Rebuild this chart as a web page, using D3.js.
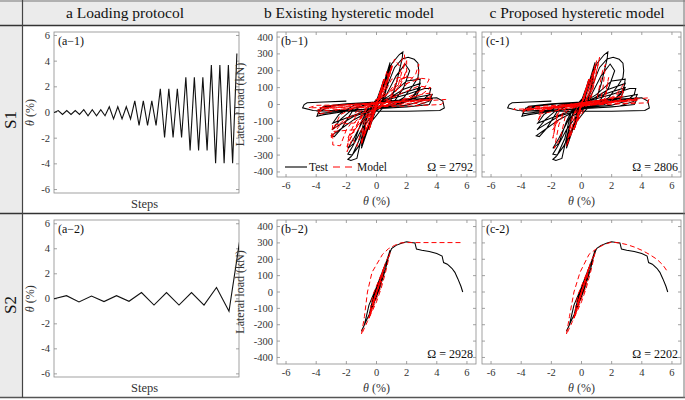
<!DOCTYPE html>
<html><head><meta charset="utf-8">
<script src="https://cdn.jsdelivr.net/npm/d3@7"></script>
<style>body{margin:0;background:#fff}</style>
</head><body>
<script>
// ---------- DATA ----------
const columnTitles = ["a Loading protocol", "b Existing hysteretic model", "c Proposed hysteretic model"];
const rowLabels = ["S1", "S2"];
const driftTicks = [-6, -4, -2, 0, 2, 4, 6];
const loadTicks = [-400, -300, -200, -100, 0, 100, 200, 300, 400];
const protocolTicks = [-6, -4, -2, 0, 2, 4, 6];
const omegaValues = [[2792, 2806], [2928, 2202]];

// loading protocol peaks (drift %, successive half-cycles)
const protocolS1 = [0, 0.15, -0.15, 0.15, -0.15, 0.15, -0.15,
  0.22, -0.25, 0.22, -0.25, 0.22, -0.25,
  0.45, -0.5, 0.45, -0.5, 0.45, -0.5,
  0.9, -1.0, 0.9, -1.0, 0.9, -1.0,
  1.85, -1.95, 1.85, -1.95, 1.85, -1.95,
  2.75, -2.95, 2.75, -2.95, 2.75, -2.95,
  3.7, -3.95, 3.7, -3.95, 3.7, -3.95, 4.6];
const protocolS2 = [0, 0.25, -0.25, 0.22, -0.22, 0.25, -0.2, 0.5, -0.5, 0.5, -0.5, 0.5, -0.5, 0.9, -1.0, 5.6];

// S1 test (drift %, load kN)
const testS1 = [[0,0],[0.15,40],[-0.15,-42],[0.15,40],[-0.15,-42],[0.15,40],[-0.15,-42],
  [0.25,70],[-0.25,-72],[0.25,70],[-0.25,-72],[0.25,68],[-0.25,-70],
  [0.45,140],[0.25,40],[0.05,-10],[-0.5,-150],[-0.3,-45],[-0.05,10],
  [0.45,135],[0.25,35],[0.05,-10],[-0.5,-145],[-0.3,-40],[-0.05,10],
  [0.45,130],[0.25,30],[0.05,-10],[-0.5,-140],[-0.3,-35],[-0.05,10],
  [0.3,70],[0.9,250],[0.6,90],[0.3,0],[-0.2,-50],[-1.0,-260],[-0.7,-100],[-0.3,0],[0.2,50],
  [0.9,235],[0.6,80],[0.3,0],[-0.2,-45],[-1.0,-245],[-0.7,-90],[-0.3,0],[0.2,45],
  [0.9,225],[0.6,70],[0.3,0],[-0.2,-40],[-1.0,-235],[-0.7,-80],[-0.3,0],
  [0.3,60],[1.0,240],[1.5,295],[1.75,312],[1.7,270],[1.3,120],[0.9,10],[0.3,-30],[-0.5,-120],[-1.2,-250],[-1.7,-310],[-1.9,-325],[-1.7,-332],[-1.3,-320],[-1.0,-200],[-0.6,-60],[-0.2,0],[0.4,40],
  [1.2,220],[1.7,270],[2.1,280],[2.5,268],[2.75,245],[2.8,200],[2.75,160],[2.4,110],[1.8,40],[1.0,0],[0,-30],[-1.0,-150],[-1.6,-250],[-1.9,-295],[-1.6,-300],[-1.1,-200],[-0.7,-50],[-0.2,0],[0.5,30],
  [1.3,170],[1.9,240],[2.2,200],[1.8,100],[1.2,20],[0.3,-20],[-0.8,-80],[-1.5,-200],[-1.9,-260],[-1.5,-230],[-1.0,-100],[-0.5,-10],[0.3,20],
  [1.0,60],[2.0,140],[2.9,150],[2.8,90],[2.2,30],[1.2,0],[0,-20],[-1.5,-90],[-2.6,-160],[-3.0,-185],[-2.8,-190],[-2.3,-140],[-1.6,-40],[-0.8,0],[0.5,20],
  [1.8,90],[2.9,125],[2.6,60],[1.8,10],[0.5,-15],[-1.5,-70],[-2.8,-140],[-2.95,-150],[-2.4,-90],[-1.5,-20],[0,10],
  [1.8,70],[2.9,100],[2.6,40],[1.5,0],[0,-15],[-2.0,-80],[-2.9,-110],[-2.5,-60],[-1.5,-5],[0,10],
  [2.0,60],[3.2,95],[3.6,95],[3.5,60],[3.0,20],[2.0,-5],[0,-20],[-2.0,-40],[-3.5,-60],[-3.95,-70],[-3.8,-40],[-3.0,-10],[-1.5,5],[0.5,10],
  [2.5,40],[3.7,60],[3.5,20],[2.5,-10],[0,-25],[-2.5,-40],[-3.9,-55],[-3.7,-20],[-2.5,0],[0,10],
  [2.5,25],[3.7,35],[3.5,0],[2.0,-15],[0,-25],[-3.0,-35],[-3.9,-40],[-3.5,-10],[-2.0,5],[0,15],
  [2.0,30],[4.0,40],[4.4,20],[4.5,-20],[4.2,-35],[2.0,-40],[0,-40],[-2.5,-40],[-4.2,-35],[-4.9,-20],[-4.8,0],[-4.6,10],[-3.5,15],[-2.0,20]];

// S1 existing model
const existingS1 = [[0,0],[0.15,45],[-0.15,-45],[0.15,45],[-0.15,-45],[0.15,45],[-0.15,-45],
  [0.25,75],[-0.25,-75],[0.25,75],[-0.25,-75],[0.25,75],[-0.25,-75],
  [0.5,150],[0.3,80],[0,0],[-0.5,-150],[-0.3,-80],[0,0],[0.5,150],[0.3,80],[0,0],[-0.5,-150],[-0.3,-80],[0,0],[0.5,150],[-0.5,-150],
  [0.2,40],[0.7,200],[0.8,150],[1.0,230],[0.7,120],[0.2,10],[-0.3,-60],[-0.8,-180],[-0.9,-140],[-1.0,-240],[-0.7,-120],[-0.2,-10],[0.3,60],[0.8,180],[1.0,220],[0.6,100],[-0.4,-80],[-1.0,-230],[-0.6,-100],[0.4,80],[1.0,210],[-1.0,-220],
  [0.2,40],[0.9,180],[1.2,270],[1.5,230],[1.85,295],[1.9,250],[1.6,200],[1.0,60],[0.5,0],[-0.5,-60],[-1.0,-150],[-1.3,-250],[-1.6,-200],[-1.95,-280],[-1.9,-230],[-1.6,-180],[-1.0,-60],[-0.5,0],[0.5,60],[1.0,150],[1.5,160],[2.0,160],[2.0,260],[1.7,200],[1.4,100],[0.8,20],[-0.6,-60],[-1.2,-150],[-1.8,-180],[-1.95,-250],[-1.5,-150],[-0.6,-20],[0.5,50],[1.5,120],[2.0,200],[1.5,100],[0.5,0],[-1.0,-100],[-1.9,-200],[-1.4,-100],[0,0],
  [0.5,40],[1.5,150],[2.2,160],[2.8,150],[2.8,240],[2.6,180],[2.0,120],[1.2,40],[0,-20],[-1.0,-100],[-1.5,-150],[-2.9,-160],[-2.9,-240],[-2.4,-245],[-2.0,-150],[-1.2,-50],[0,20],[1.5,110],[3.0,155],[3.5,150],[3.2,100],[2.5,60],[1.5,20],[0,-20],[-1.5,-110],[-2.9,-120],[-3.0,-200],[-2.5,-130],[-1.0,-20],[1.0,40],[2.8,110],[3.6,100],[3.0,60],[1.0,0],[-2.0,-80],[-2.9,-150],[-2.4,-60],[-1.0,0],
  [1.5,20],[3.0,60],[3.7,70],[3.5,30],[2.5,10],[0,-10],[-2.5,-30],[-3.9,-60],[-3.6,-20],[-2.0,0],[0.5,10],[3.0,30],[3.7,50],[3.3,10],[0,-10],[-3.9,-40],[-3.5,-10],[0,10],[3.7,30],[-3.9,-30],
  [0,10],[3.0,20],[4.6,30],[4.3,0],[2.0,-10],[-2.0,-15],[-4.5,-20],[-4.0,-5],[0,0]];

// S1 proposed model
const proposedS1 = [[0,0],[0.15,45],[-0.15,-45],[0.15,45],[-0.15,-45],[0.15,45],[-0.15,-45],
  [0.25,75],[-0.25,-75],[0.25,75],[-0.25,-75],[0.25,75],[-0.25,-75],
  [0.5,150],[-0.5,-150],[0.5,150],[-0.5,-150],[0.5,150],[-0.5,-150],
  [1.0,260],[0.7,100],[0.3,10],[-0.3,-10],[-0.8,-200],[-1.0,-250],[-0.7,-100],[-0.3,-10],[0.3,10],[0.9,230],[0.6,80],[0.2,5],[-0.9,-220],[-0.6,-70],[0.2,5],[0.9,210],[-0.9,-200],
  [0.5,20],[0.9,150],[1.2,280],[1.0,200],[0.6,20],[-0.3,-10],[-1.0,-40],[-1.4,-200],[-1.8,-260],[-1.5,-120],[-1.0,-10],[0,10],[1.0,20],[1.4,200],[1.6,240],[1.4,80],[1.2,10],[0,-10],[-1.5,-30],[-1.9,-200],[-1.6,-60],[-1.2,-5],[0,10],[1.5,30],[1.8,160],[1.6,40],[1.0,0],[-1.0,-15],[-1.9,-150],[-1.5,-20],
  [0,10],[2.0,25],[2.8,120],[2.6,30],[1.5,5],[-1.0,-10],[-2.5,-30],[-2.9,-100],[-2.6,-30],[-1.0,0],[1.5,20],[2.8,80],[2.5,20],[0,-5],[-2.9,-60],[-2.5,-20],[0,5],[2.8,50],[-2.9,-40],
  [0,5],[2.5,20],[3.7,40],[3.5,10],[0,-5],[-3.0,-20],[-3.9,-45],[-3.5,-15],[0,5],[3.7,30],[-3.9,-35],[3.7,25],[-3.9,-30],
  [4.5,40],[4.4,10],[0,-5],[-4.5,-30],[-4.4,-20]];

// S2 test
const testS2 = [[0,0],[0.2,55],[-0.25,-60],[0.2,55],[-0.25,-60],[0.2,55],[-0.25,-60],
  [0.5,140],[0.2,30],[-0.5,-150],[-0.2,-30],[0.5,140],[0.2,30],[-0.5,-150],[-0.2,-30],[0.5,135],[0.2,30],[-0.5,-145],[-0.2,-25],
  [0.3,80],[0.9,255],[0.6,140],[0.2,20],[-0.3,-100],[-1.0,-240],[-0.8,-200],[-0.5,-80],[0,30],[0.5,150],
  [1.0,265],[1.3,285],[1.7,300],[2.0,307],[2.3,303],[2.55,300],[2.65,262],[3.0,255],[3.5,248],[4.0,235],[4.35,220],[4.45,180],[4.7,170],[5.0,145],[5.2,120],[5.4,80],[5.6,35],[5.72,0]];

// S2 existing model
const existingS2 = [[0,0],[0.25,70],[-0.25,-70],[0.25,70],[-0.25,-70],[0.25,70],[-0.25,-70],
  [0.5,150],[0.25,20],[-0.5,-160],[-0.25,-20],[0.5,150],[-0.5,-160],[0.5,150],[-0.5,-160],
  [-0.2,-60],[0.2,50],[0.6,180],[0.9,240],[0.6,120],[0.3,20],[0,-60],[-0.6,-180],[-1.0,-260],[-0.8,-150],[-0.6,0],[-0.3,120],[0.4,230],[0.8,265],[1.2,285],[1.6,300],[2.0,302],[5.75,302]];

// S2 proposed model
const proposedS2 = [[0,0],[0.25,70],[-0.25,-70],[0.25,70],[-0.25,-70],[0.25,70],[-0.25,-70],
  [0.5,150],[0.25,20],[-0.5,-160],[-0.25,-20],[0.5,150],[-0.5,-160],[0.5,150],[-0.5,-160],
  [-0.2,-60],[0.2,50],[0.6,180],[0.9,240],[0.6,120],[0.3,20],[0,-60],[-0.6,-180],[-1.0,-260],[-0.8,-150],[-0.5,0],[-0.1,120],[0.5,230],[1.0,265],[1.5,290],[2.0,305],[2.5,300],[3.0,290],[3.5,275],[4.0,255],[4.5,230],[5.0,200],[5.4,165],[5.7,125]];

// ---------- DRAW ----------
const W = 685, H = 400;
const FONT = "'Liberation Serif', 'DejaVu Serif', serif";
const svg = d3.select("body").append("svg").attr("width", W).attr("height", H).attr("font-family", FONT);
const grey = "#ebebeb", txt = "#333", boxC = "#8a8a8a";

svg.append("rect").attr("width", W).attr("height", H).attr("fill", "#fff");
svg.append("rect").attr("x", 0).attr("y", 0).attr("width", W).attr("height", 25).attr("fill", grey);
svg.append("rect").attr("x", 0).attr("y", 0).attr("width", 22).attr("height", 398).attr("fill", grey);

const colCenters = [125, 349, 577];
svg.selectAll(".ct").data(columnTitles).join("text")
  .attr("x", (d, i) => colCenters[i]).attr("y", 18).attr("text-anchor", "middle")
  .attr("font-size", 15.5).attr("fill", "#111").text(d => d);

const rowCenters = [120, 305];
rowLabels.forEach((r, i) => {
  svg.append("text").attr("transform", `translate(16,${rowCenters[i]}) rotate(-90)`)
    .attr("text-anchor", "middle").attr("font-size", 17).attr("fill", "#111").text(r);
});

const ln = (x1, y1, x2, y2, c, w) => svg.append("line").attr("x1", x1).attr("y1", y1).attr("x2", x2).attr("y2", y2).attr("stroke", c).attr("stroke-width", w);

let clipId = 0;
function frame(g, x, y, cfg, xTicks, yTicks, showXLabels, showYLabels) {
  const [l, r, t, b] = [cfg.l, cfg.r, cfg.t, cfg.b];
  g.append("rect").attr("x", l).attr("y", t).attr("width", r - l).attr("height", b - t)
    .attr("fill", "none").attr("stroke", boxC).attr("stroke-width", 0.8);
  if (xTicks) {
    xTicks.forEach(v => {
      g.append("line").attr("x1", x(v)).attr("x2", x(v)).attr("y1", b).attr("y2", b - 3).attr("stroke", boxC).attr("stroke-width", 0.8);
      g.append("line").attr("x1", x(v)).attr("x2", x(v)).attr("y1", t).attr("y2", t + 3).attr("stroke", boxC).attr("stroke-width", 0.8);
    });
    if (showXLabels) g.selectAll(".xl").data(xTicks).join("text").attr("x", v => x(v)).attr("y", b + 12)
      .attr("text-anchor", "middle").attr("font-size", 10.5).attr("fill", txt).text(v => v);
  }
  yTicks.forEach(v => {
    g.append("line").attr("x1", l).attr("x2", l + 3).attr("y1", y(v)).attr("y2", y(v)).attr("stroke", boxC).attr("stroke-width", 0.8);
    g.append("line").attr("x1", r).attr("x2", r - 3).attr("y1", y(v)).attr("y2", y(v)).attr("stroke", boxC).attr("stroke-width", 0.8);
  });
  if (showYLabels) g.selectAll(".yl").data(yTicks).join("text").attr("x", l - 4).attr("y", v => y(v) + 3.5)
    .attr("text-anchor", "end").attr("font-size", 10.5).attr("fill", txt).text(v => v);
  const id = "clip" + (clipId++);
  g.append("clipPath").attr("id", id).append("rect").attr("x", l).attr("y", t).attr("width", r - l).attr("height", b - t);
  return id;
}

function thetaLabel(g, x, y, rot) {
  const t = g.append("text").attr("font-size", 12).attr("fill", txt).attr("text-anchor", "middle")
    .attr("transform", rot ? `translate(${x},${y}) rotate(-90)` : `translate(${x},${y})`);
  t.append("tspan").attr("font-style", "italic").text("θ");
  t.append("tspan").text(" (%)");
}

function protocolPanel(cfg, data, tag) {
  const g = svg.append("g");
  const x = d3.scaleLinear().domain([0, cfg.n]).range([cfg.l, cfg.r]);
  const y = d3.scaleLinear().domain(cfg.yd).range([cfg.b, cfg.t]);
  const id = frame(g, x, y, cfg, null, protocolTicks, false, true);
  g.append("path").datum(data).attr("clip-path", `url(#${id})`)
    .attr("d", d3.line().x((d, i) => x(i)).y(d => y(d)))
    .attr("fill", "none").attr("stroke", "#111").attr("stroke-width", 1.1).attr("stroke-linejoin", "miter");
  g.append("text").attr("x", cfg.l + 4).attr("y", cfg.t + 13).attr("font-size", 12).attr("fill", "#111").text(tag);
  thetaLabel(g, cfg.l - 20, y(0), true);
  g.append("text").attr("x", (cfg.l + cfg.r) / 2 - 2).attr("y", cfg.b + 15).attr("text-anchor", "middle")
    .attr("font-size", 12.5).attr("fill", txt).text("Steps");
}

function hystPanel(cfg, test, model, tag, omega, yLabels, legend) {
  const g = svg.append("g");
  const x = d3.scaleLinear().domain([-6.6, 6.6]).range([cfg.l, cfg.r]);
  const y = d3.scaleLinear().domain(cfg.yd).range([cfg.b, cfg.t]);
  const id = frame(g, x, y, cfg, driftTicks, loadTicks, true, yLabels);
  const line = d3.line().x(d => x(d[0])).y(d => y(d[1]));
  const pg = g.append("g").attr("clip-path", `url(#${id})`);
  pg.append("path").datum(test).attr("d", line).attr("fill", "none").attr("stroke", "#000").attr("stroke-width", 1.05);
  pg.append("path").datum(model).attr("d", line).attr("fill", "none").attr("stroke", "#f00").attr("stroke-width", 1)
    .attr("stroke-dasharray", "5,3");
  g.append("text").attr("x", cfg.l + 4).attr("y", cfg.t + 13).attr("font-size", 12).attr("fill", "#111").text(tag);
  g.append("text").attr("x", cfg.r - 3).attr("y", cfg.b - 6).attr("text-anchor", "end").attr("font-size", 12).attr("fill", "#111")
    .text("Ω = " + omega);
  thetaLabel(g, (cfg.l + cfg.r) / 2, cfg.b + 28, false);
  if (yLabels) {
    g.append("text").attr("transform", `translate(${cfg.l - 33},${y(0)}) rotate(-90)`).attr("text-anchor", "middle")
      .attr("font-size", 12).attr("fill", txt).text("Lateral load (kN)");
  }
  if (legend) {
    const ly = cfg.b - 10;
    g.append("line").attr("x1", cfg.l + 8).attr("x2", cfg.l + 30).attr("y1", ly).attr("y2", ly).attr("stroke", "#000").attr("stroke-width", 1.1);
    g.append("text").attr("x", cfg.l + 32).attr("y", ly + 4).attr("font-size", 11.5).attr("fill", "#111").text("Test");
    g.append("line").attr("x1", cfg.l + 56).attr("x2", cfg.l + 78).attr("y1", ly).attr("y2", ly).attr("stroke", "#f00").attr("stroke-width", 1).attr("stroke-dasharray", "7,5");
    g.append("text").attr("x", cfg.l + 80).attr("y", ly + 4).attr("font-size", 11.5).attr("fill", "#111").text("Model");
  }
}

protocolPanel({ l: 54, r: 239, t: 32, b: 193, n: 43.5, yd: [-6.27, 6.27] }, protocolS1, "(a\u22121)");
protocolPanel({ l: 54, r: 239, t: 220, b: 377, n: 14.8, yd: [-6.25, 6.3] }, protocolS2, "(a\u22122)");
hystPanel({ l: 277, r: 476, t: 32, b: 177, yd: [-430, 430] }, testS1, existingS1, "(b\u22121)", omegaValues[0][0], true, true);
hystPanel({ l: 482, r: 681, t: 32, b: 177, yd: [-430, 430] }, testS1, proposedS1, "(c-1)", omegaValues[0][1], false, false);
hystPanel({ l: 277, r: 476, t: 220, b: 364, yd: [-440, 440] }, testS2, existingS2, "(b\u22122)", omegaValues[1][0], true, false);
hystPanel({ l: 482, r: 681, t: 220, b: 364, yd: [-440, 440] }, testS2, proposedS2, "(c-2)", omegaValues[1][1], false, false);

ln(0, 1, W, 1, "#777", 1.2);
ln(0, 25.5, W, 25.5, "#333", 1.3);
ln(0, 213.5, W, 213.5, "#333", 1.3);
ln(0, 397.5, W, 397.5, "#555", 1.5);
ln(22.5, 0, 22.5, 398, "#444", 1.2);
ln(684, 0, 684, 398, "#777", 1);
</script>
</body></html>
